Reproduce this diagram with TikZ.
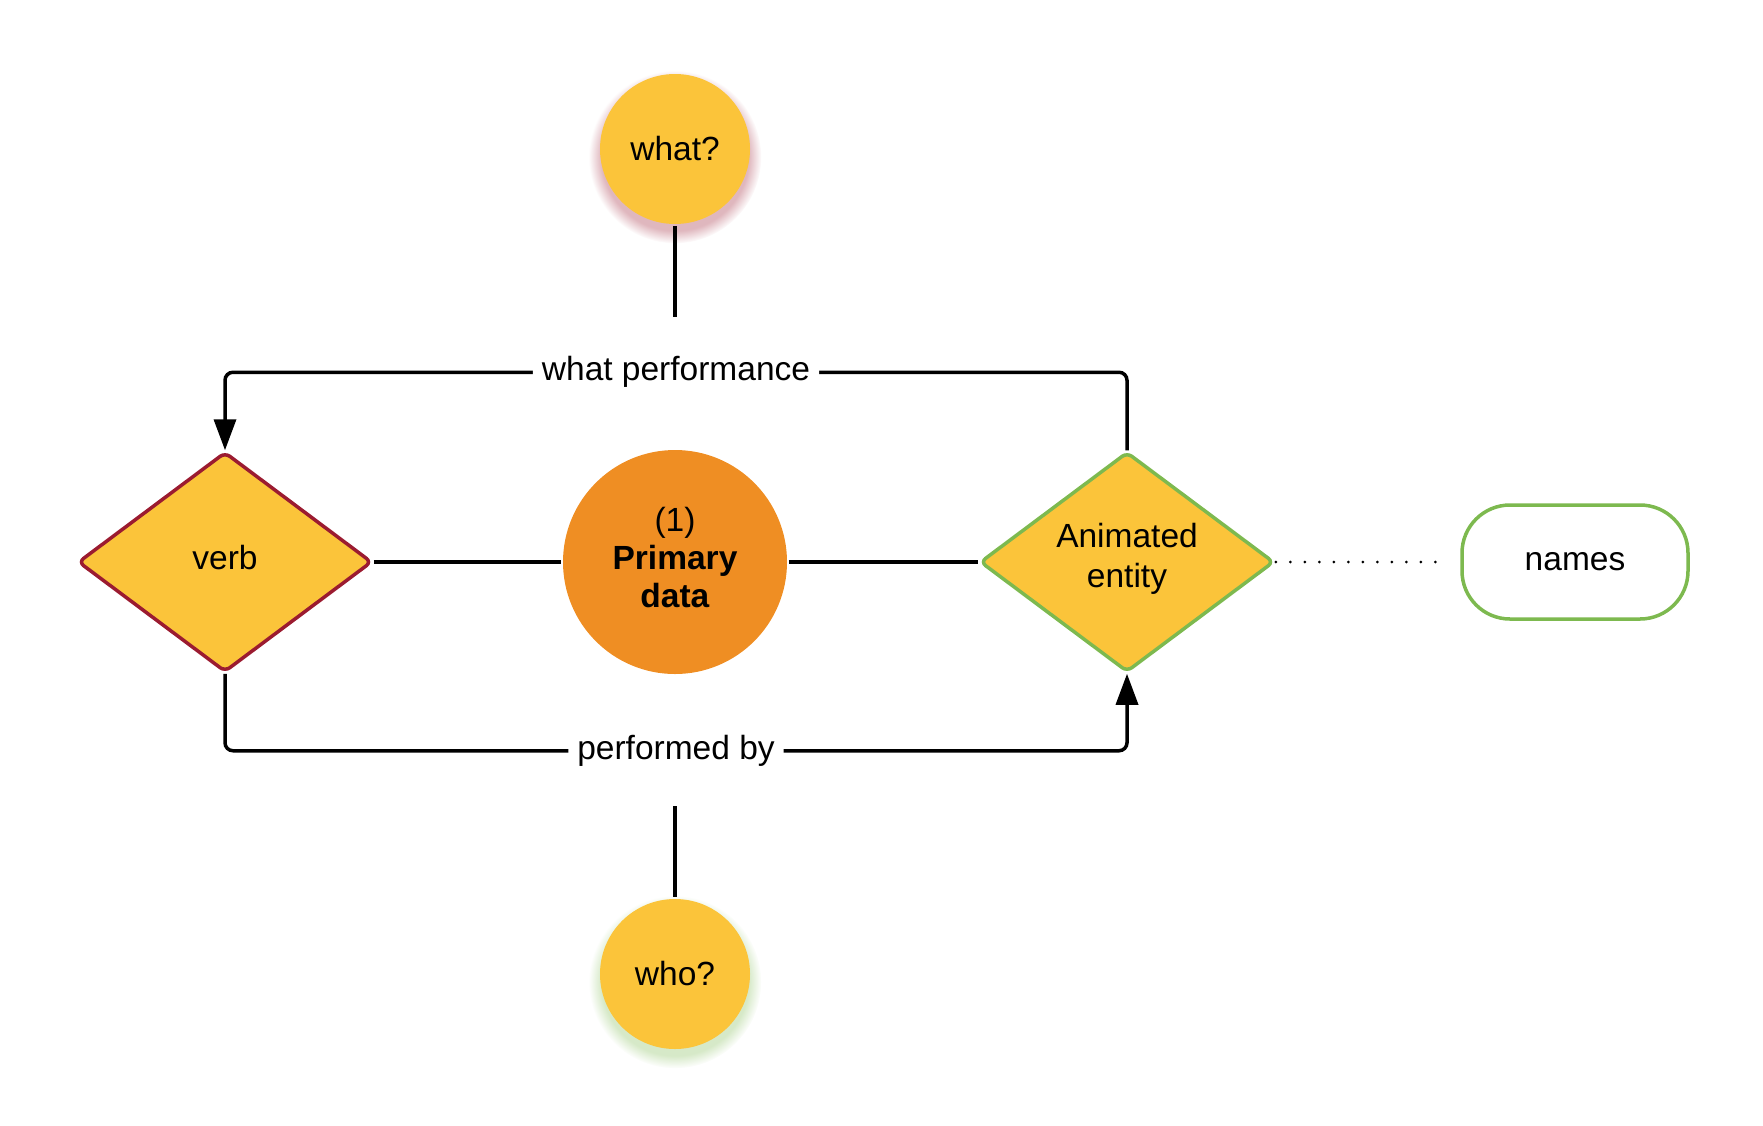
\documentclass[tikz,border=0pt]{standalone}
\usepackage{fontspec}
\setmainfont{Liberation Sans}
\usetikzlibrary{shapes.geometric,arrows.meta,shadows}
\definecolor{qyellow}{HTML}{FBC43A}
\definecolor{qorange}{HTML}{EF8E23}
\definecolor{qred}{HTML}{9B1B30}
\definecolor{qgreen}{HTML}{7DB94F}
\begin{document}
\begin{tikzpicture}[x=1pt, y=-1pt, line width=3.5pt, font=\fontsize{33.5}{40}\selectfont,
  ask/.style = {circle, fill=qyellow, minimum size=150pt, inner sep=0pt},
  core/.style = {circle, fill=qorange, minimum size=224pt, inner sep=0pt, align=center, text depth=10pt, font=\fontsize{33.5}{38}\selectfont},
  dec/.style = {diamond, fill=qyellow, minimum width=294pt, minimum height=220pt, aspect=1.34, inner sep=0pt, rounded corners=6pt, align=center},
  term/.style = {draw=qgreen, rectangle, rounded corners=48pt, minimum width=226pt, minimum height=114pt},
  lab/.style = {fill=white, inner xsep=9pt, inner ysep=2pt},
  arr/.style = {-{Triangle[length=31pt,width=22pt]}}]
  \useasboundingbox (0,0) rectangle (1763,1125);
  \node[ask, circular drop shadow={fill=qred!70, opacity=0.45, shadow xshift=0pt, shadow yshift=-7pt, shadow scale=1.15}] (what) at (675,149) {what?};
  \node[ask, circular drop shadow={fill=qgreen!70, opacity=0.45, shadow xshift=0pt, shadow yshift=-7pt, shadow scale=1.15}] (who) at (675,974) {who?};
  \node[dec, draw=qred, text depth=10pt] (verb) at (225,562) {verb};
  \node[core] (core) at (675,562) {(1)\\\textbf{Primary}\\\textbf{data}};
  \node[dec, draw=qgreen, text depth=14pt] (entity) at (1127,562) {Animated\\entity};
  \node[term] (names) at (1575,562) {names};
  \coordinate (whatend) at (675,317);
  \coordinate (whostart) at (675,806);
  % questions
  \draw (what) -- (whatend);
  \draw (whostart) -- (who);
  % relations
  \draw[arr, rounded corners=8pt] (entity.north) -- ++(0,-78) -| node[lab, pos=0.25] {what performance} (verb.north);
  \draw[arr, rounded corners=8pt] (verb.south) -- ++(0,77) -| node[lab, pos=0.25] {performed by} (entity.south);
  \draw (verb) -- (core);
  \draw (core) -- (entity);
  \draw[line width=3pt, line cap=round, dash pattern=on 0pt off 14.5pt, shorten >=12pt] (entity.east) -- (names.west);
\end{tikzpicture}
\end{document}
